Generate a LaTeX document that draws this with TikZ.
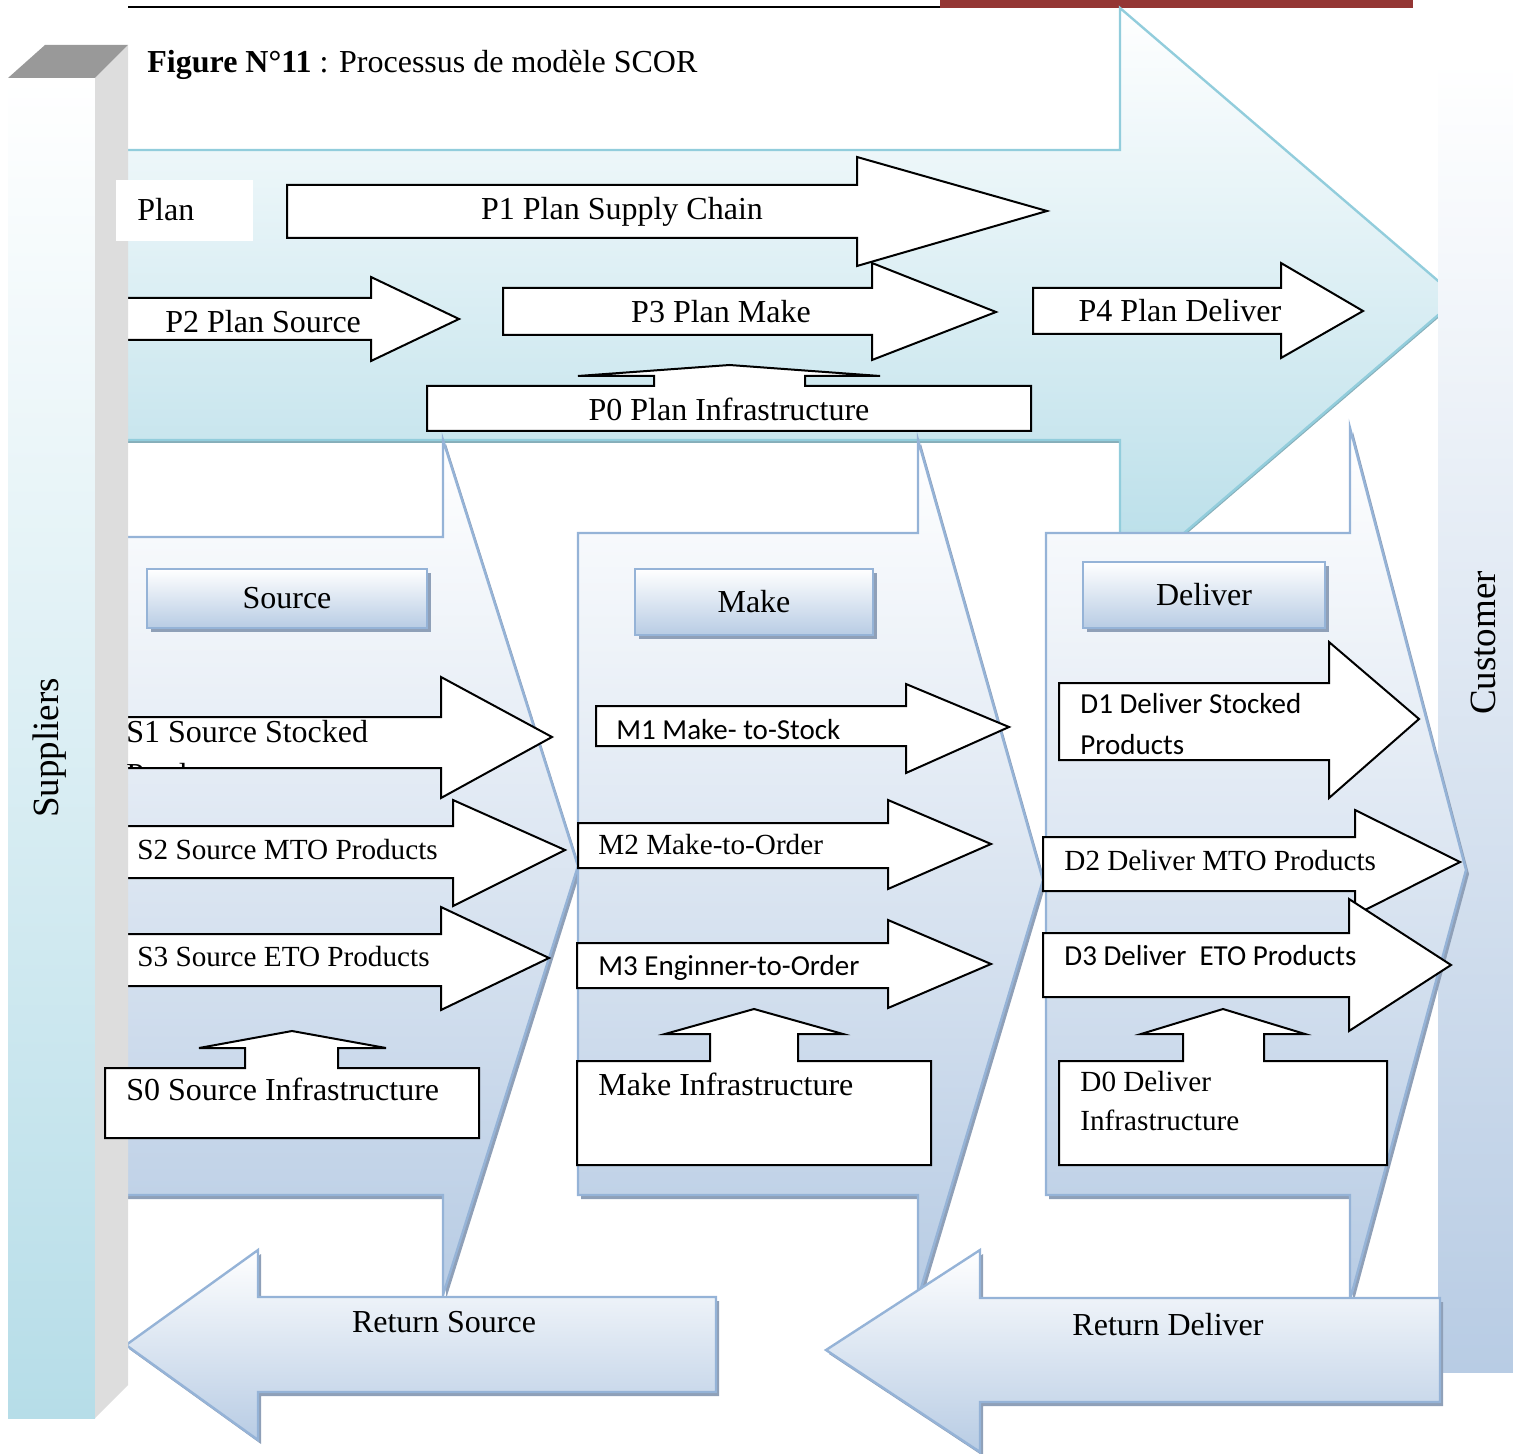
\documentclass[tikz,border=0pt]{standalone}
\usepackage{fontspec}
\setmainfont{Liberation Serif}
\newfontfamily\calibri{Carlito}
\usetikzlibrary{shadows}
\definecolor{azulborda}{HTML}{95B3D7}
\definecolor{azulfundo}{HTML}{B8CCE4}
\definecolor{tealborda}{HTML}{92CDDC}
\definecolor{tealfundo}{HTML}{B6DDE8}
\definecolor{sombra}{HTML}{8FA0B8}
\definecolor{sombrateal}{HTML}{86AEB9}
\definecolor{vinho}{HTML}{943634}
\definecolor{cinzaclaro}{HTML}{DDDDDD}
\definecolor{cinzaescuro}{HTML}{999999}
%seta de bloco: estilo, x corpo, y topo, y base, x cabeca, y topo cabeca, y base cabeca, ponta x, ponta y
\newcommand{\bloco}[9]{\draw[#1] (#2,#3) -- (#5,#3) -- (#5,#6) -- (#8,#9) -- (#5,#7) -- (#5,#4) -- (#2,#4) -- cycle;}
\begin{document}
\begin{tikzpicture}[x=0.5pt,y=-0.5pt,
  processo/.style={draw=black,fill=white,line width=1pt},
  divisa/.style={draw=azulborda,line width=1.2pt,top color=white,bottom color=azulfundo,
    drop shadow={shadow xshift=1.5pt,shadow yshift=-2pt,fill=sombra,opacity=1}},
  planoseta/.style={draw=tealborda,line width=1.2pt,top color=white,bottom color=tealfundo,
    drop shadow={shadow xshift=0pt,shadow yshift=-1.5pt,fill=sombrateal,opacity=1}},
  cabecalho/.style={draw=azulborda,line width=1pt,top color=white,bottom color=azulfundo,
    drop shadow={shadow xshift=2pt,shadow yshift=-2pt,fill=sombra,opacity=1},
    font=\fontsize{16}{19}\selectfont},
  texto/.style={inner sep=0pt,font=\fontsize{16}{19}\selectfont},
  textop/.style={inner sep=0pt,font=\fontsize{14.6}{17}\selectfont},
  textosans/.style={inner sep=0pt,font=\calibri\fontsize{14.5}{17}\selectfont},
  lateral/.style={inner sep=0pt,rotate=90,font=\fontsize{18.5}{22}\selectfont}]
\useasboundingbox (0,0) rectangle (1513,1454);
%linha do topo da pagina
 \draw[line width=1pt] (128,7) -- (940,7);
 \fill[vinho] (940,0) rectangle (1413,8);
%grande seta Plan
 \bloco{planoseta}{100}{150}{440}{1120}{8}{588}{1458}{298}
%barra Customer
 \shade[top color=white,bottom color=azulfundo] (1438,60) rectangle (1513,1372);
%divisas Source, Make, Deliver
 \bloco{divisa}{100}{537}{1195}{443}{440}{1295}{578}{866}
 \bloco{divisa}{578}{533}{1195}{918}{440}{1298}{1043}{880}
 \bloco{divisa}{1046}{533}{1195}{1350}{428}{1300}{1466}{870}
%setas do plano
 \bloco{processo}{287}{185}{238}{857}{157}{266}{1047}{211}
 \bloco{processo}{100}{298}{340}{371}{277}{361}{459}{319}
 \bloco{processo}{503}{288}{335}{872}{263}{360}{996}{312}
 \bloco{processo}{1033}{288}{334}{1281}{263}{358}{1363}{311}
%P0 com seta para cima
 \draw[processo] (427,386) -- (654,386) -- (654,376) -- (578,376) -- (729.5,365) -- (880,376) -- (805,376) -- (805,386) -- (1031,386) -- (1031,431) -- (427,431) -- cycle;
%cabecalhos
 \node[cabecalho,minimum width=140pt,minimum height=29.5pt] (hsource) at (287,598.5) {Source};
 \node[cabecalho,minimum width=119pt,minimum height=33pt] (hmake) at (754,602) {Make};
 \node[cabecalho,minimum width=121pt,minimum height=33pt] (hdeliver) at (1204,595) {Deliver};
%setas Source
 \bloco{processo}{100}{717}{768}{441}{677}{798}{552}{737}
 \bloco{processo}{100}{826}{878}{453}{800}{906}{565}{850}
 \bloco{processo}{100}{934}{986}{441}{907}{1010}{549}{958}
%setas Make
 \bloco{processo}{596}{706}{746}{906}{684}{773}{1009}{727}
 \bloco{processo}{578}{823}{868}{888}{800}{889}{991}{844}
 \bloco{processo}{577}{943}{988}{888}{920}{1008}{991}{964}
%setas Deliver
 \bloco{processo}{1059}{683}{760}{1329}{642}{798}{1419}{719}
 \bloco{processo}{1043}{837}{891}{1355}{810}{915}{1460}{862}
 \bloco{processo}{1043}{933}{997}{1349}{899}{1031}{1451}{965}
%infraestruturas Make e Deliver
 \draw[processo] (577,1061) -- (710,1061) -- (710,1034) -- (665,1034) -- (754,1009) -- (843,1034) -- (798,1034) -- (798,1061) -- (931,1061) -- (931,1165) -- (577,1165) -- cycle;
 \draw[processo] (1059,1061) -- (1183,1061) -- (1183,1034) -- (1141,1034) -- (1223,1009) -- (1305,1034) -- (1264,1034) -- (1264,1061) -- (1387,1061) -- (1387,1165) -- (1059,1165) -- cycle;
%setas de retorno
 \bloco{divisa}{716}{1297}{1392}{258}{1250}{1440}{126}{1345}
 \bloco{divisa}{1440}{1298}{1402}{980}{1250}{1452}{826}{1350}
%barra Suppliers em 3D
 \shade[top color=white,bottom color=tealfundo] (8,78) rectangle (95,1418);
 \fill[cinzaclaro] (95,78) -- (128,45) -- (128,1385) -- (95,1418) -- cycle;
 \fill[cinzaescuro] (8,78) -- (95,78) -- (128,45) -- (45,45) -- cycle;
%caixa Plan e S0 por cima da barra
 \fill[white] (116,180) rectangle (253,241);
 \draw[processo] (105,1068) -- (245,1068) -- (245,1048) -- (199,1048) -- (292,1031) -- (386,1048) -- (338,1048) -- (338,1068) -- (479,1068) -- (479,1138) -- (105,1138) -- cycle;
%textos
 \node[texto,anchor=base west] (titulo) at (147,73) {\textbf{Figure N°11} : Processus de modèle SCOR};
 \node[texto,anchor=base west] (tplan) at (137,221) {Plan};
 \node[texto,anchor=base] (tp1) at (622,220) {P1 Plan Supply Chain};
 \node[texto,anchor=base west] (tp2) at (165,333) {P2 Plan Source};
 \node[texto,anchor=base] (tp3) at (721,323) {P3 Plan Make};
 \node[texto,anchor=base] (tp4) at (1180,322) {P4 Plan Deliver};
 \node[texto,anchor=base] (tp0) at (729,421) {P0 Plan Infrastructure};
 \node[texto,anchor=base west] (ts1) at (126,742) {S1 Source Stocked};
 \begin{scope}
  \clip (100,717) rectangle (441,768);
  \node[texto,anchor=base west] (ts1b) at (126,785) {Products};
 \end{scope}
 \node[textop,anchor=base west] (ts2) at (137,859) {S2 Source MTO Products};
 \node[textop,anchor=base west] (ts3) at (137,966) {S3 Source ETO Products};
 \node[texto,anchor=base west] (ts0) at (126,1100) {S0 Source Infrastructure};
 \node[textosans,anchor=base west] (tm1) at (616,739) {M1 Make- to-Stock};
 \node[textop,anchor=base west] (tm2) at (598,854) {M2 Make-to-Order};
 \node[textosans,anchor=base west] (tm3) at (598,975) {M3 Enginner-to-Order};
 \node[texto,anchor=base west] (tm0) at (598,1095) {Make Infrastructure};
 \node[textosans,anchor=base west] (td1) at (1080,713) {D1 Deliver Stocked};
 \node[textosans,anchor=base west] (td1b) at (1080,754) {Products};
 \node[textop,anchor=base west] (td2) at (1064,870) {D2 Deliver MTO Products};
 \node[textosans,anchor=base west] (td3) at (1064,965) {D3 Deliver\ \ ETO Products};
 \node[textop,anchor=base west] (td0) at (1080,1091) {D0 Deliver};
 \node[textop,anchor=base west] (td0b) at (1080,1130) {Infrastructure};
 \node[texto,anchor=base] (trs) at (444,1332) {Return Source};
 \node[texto,anchor=base] (trd) at (1168,1335) {Return Deliver};
 \node[lateral] (forn) at (50,748) {Suppliers};
 \node[lateral] (cli) at (1483,643) {Customer};
\end{tikzpicture}
\end{document}
